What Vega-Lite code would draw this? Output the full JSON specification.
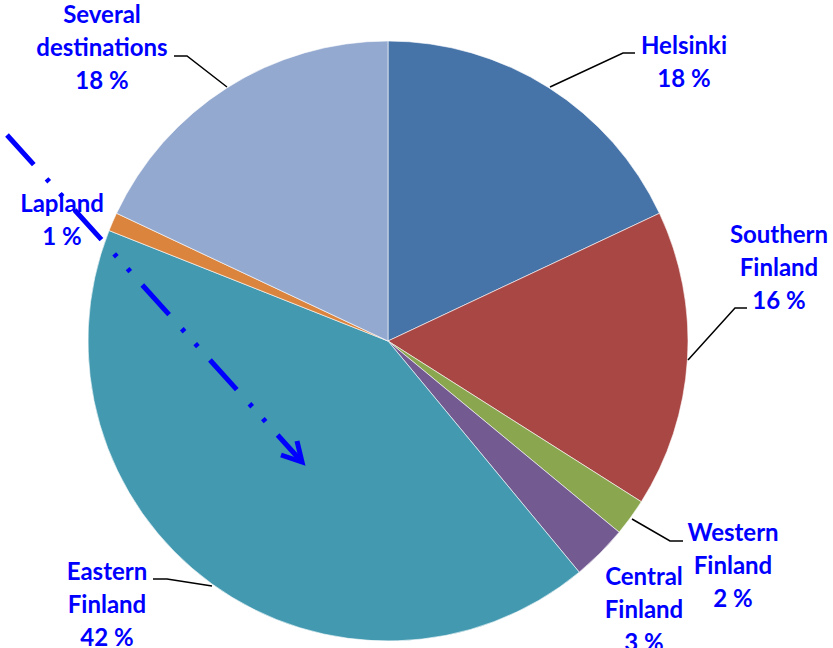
{
  "$schema": "https://vega.github.io/schema/vega-lite/v6.json",
  "width": 776,
  "height": 614,
  "autosize": {"type": "none"},
  "padding": {"left": 0, "top": 34, "right": 57, "bottom": 0},
  "background": "#ffffff",
  "config": {"view": {"stroke": null}},
  "datasets": {
    "slices": [
      {"region": "Helsinki", "share": 18, "rank": 1},
      {"region": "Southern Finland", "share": 16, "rank": 2},
      {"region": "Western Finland", "share": 2, "rank": 3},
      {"region": "Central Finland", "share": 3, "rank": 4},
      {"region": "Eastern Finland", "share": 42, "rank": 5},
      {"region": "Lapland", "share": 1, "rank": 6},
      {"region": "Several destinations", "share": 18, "rank": 7}
    ],
    "labels": [
      {"text": "Several\ndestinations\n18 %", "lx": 102, "ly": 16},
      {"text": "Helsinki\n18 %", "lx": 684, "ly": 47},
      {"text": "Southern\nFinland\n16 %", "lx": 779, "ly": 236},
      {"text": "Western\nFinland\n2 %", "lx": 733, "ly": 534},
      {"text": "Central\nFinland\n3 %", "lx": 644, "ly": 578},
      {"text": "Eastern\nFinland\n42 %", "lx": 107, "ly": 573},
      {"text": "Lapland\n1 %", "lx": 62, "ly": 205}
    ],
    "leaders": [
      {"label": "Several", "step": 1, "px": 174, "py": 56},
      {"label": "Several", "step": 2, "px": 187, "py": 56},
      {"label": "Several", "step": 3, "px": 227, "py": 87},
      {"label": "Helsinki", "step": 1, "px": 635, "py": 53},
      {"label": "Helsinki", "step": 2, "px": 623, "py": 53},
      {"label": "Helsinki", "step": 3, "px": 550, "py": 87},
      {"label": "Southern", "step": 1, "px": 747, "py": 308},
      {"label": "Southern", "step": 2, "px": 735, "py": 308},
      {"label": "Southern", "step": 3, "px": 688, "py": 360},
      {"label": "Western", "step": 1, "px": 683, "py": 541},
      {"label": "Western", "step": 2, "px": 670, "py": 541},
      {"label": "Western", "step": 3, "px": 632, "py": 519},
      {"label": "Eastern", "step": 1, "px": 153, "py": 579},
      {"label": "Eastern", "step": 2, "px": 167, "py": 579},
      {"label": "Eastern", "step": 3, "px": 212, "py": 586}
    ],
    "arrow": [
      {"step": 1, "px": 7, "py": 135},
      {"step": 2, "px": 302, "py": 462}
    ],
    "arrowhead": [
      {"step": 1, "px": 297, "py": 441},
      {"step": 2, "px": 302, "py": 462},
      {"step": 3, "px": 281, "py": 455}
    ]
  },
  "layer": [
    {
      "data": {"name": "slices"},
      "mark": {"type": "arc", "outerRadius": 300, "stroke": "#ffffff", "strokeWidth": 0.6},
      "encoding": {
        "theta": {"field": "share", "type": "quantitative", "stack": true},
        "order": {"field": "rank", "type": "quantitative"},
        "color": {
          "field": "region",
          "type": "nominal",
          "scale": {
            "domain": ["Helsinki", "Southern Finland", "Western Finland", "Central Finland", "Eastern Finland", "Lapland", "Several destinations"],
            "range": ["#4673A8", "#A94745", "#8AA64F", "#735A91", "#4299B0", "#DB843D", "#94A9D0"]
          },
          "legend": null
        }
      }
    },
    {
      "data": {"name": "leaders"},
      "mark": {"type": "line", "color": "#000000", "strokeWidth": 1.5},
      "encoding": {
        "x": {"field": "px", "type": "quantitative", "scale": {"domain": [0, 776], "nice": false, "zero": false}, "axis": null},
        "y": {"field": "py", "type": "quantitative", "scale": {"domain": [34, 648], "nice": false, "zero": false, "reverse": true}, "axis": null},
        "detail": {"field": "label", "type": "nominal"},
        "order": {"field": "step", "type": "quantitative"}
      }
    },
    {
      "data": {"name": "arrow"},
      "mark": {"type": "line", "color": "#0000ff", "strokeWidth": 5, "strokeDash": [40, 19, 4, 16, 4, 18]},
      "encoding": {
        "x": {"field": "px", "type": "quantitative", "scale": {"domain": [0, 776], "nice": false, "zero": false}, "axis": null},
        "y": {"field": "py", "type": "quantitative", "scale": {"domain": [34, 648], "nice": false, "zero": false, "reverse": true}, "axis": null},
        "order": {"field": "step", "type": "quantitative"}
      }
    },
    {
      "data": {"name": "arrowhead"},
      "mark": {"type": "line", "color": "#0000ff", "strokeWidth": 5, "strokeJoin": "miter"},
      "encoding": {
        "x": {"field": "px", "type": "quantitative", "scale": {"domain": [0, 776], "nice": false, "zero": false}, "axis": null},
        "y": {"field": "py", "type": "quantitative", "scale": {"domain": [34, 648], "nice": false, "zero": false, "reverse": true}, "axis": null},
        "order": {"field": "step", "type": "quantitative"}
      }
    },
    {
      "data": {"name": "labels"},
      "mark": {"type": "text", "font": "Lato", "fontWeight": "bold", "fontSize": 24, "color": "#0000ff", "align": "center", "baseline": "middle", "lineBreak": "\n", "lineHeight": 33},
      "encoding": {
        "x": {"field": "lx", "type": "quantitative", "scale": {"domain": [0, 776], "nice": false, "zero": false}, "axis": null},
        "y": {"field": "ly", "type": "quantitative", "scale": {"domain": [34, 648], "nice": false, "zero": false, "reverse": true}, "axis": null},
        "text": {"field": "text", "type": "nominal"}
      }
    }
  ]
}
